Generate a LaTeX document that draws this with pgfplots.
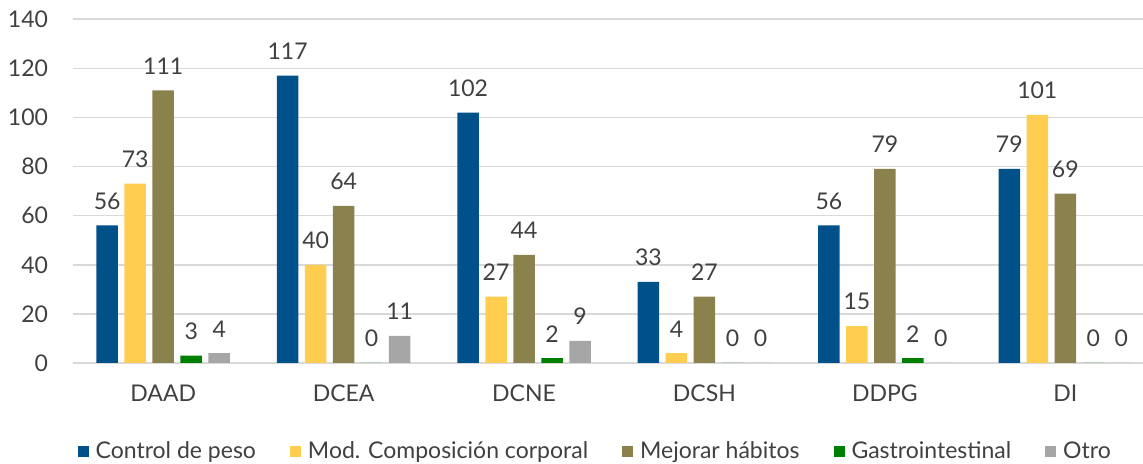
\documentclass[border=0pt]{standalone}
\usepackage{pgfplots}
\pgfplotsset{compat=1.18}
\usepackage{fontspec}
\setmainfont{Lato}
\definecolor{cblue}{HTML}{00508A}
\definecolor{cyellow}{HTML}{FFCD4F}
\definecolor{colive}{HTML}{8A814C}
\definecolor{cgreen}{HTML}{008000}
\definecolor{cgray}{HTML}{A6A6A6}
\definecolor{ctext}{HTML}{404040}
\definecolor{cgrid}{HTML}{D9D9D9}
\begin{document}
\begin{tikzpicture}
\useasboundingbox (-36.5pt,-50.25pt) rectangle (535pt,181.5pt);
\begin{axis}[
  at={(0,0)}, anchor=south west,
  scale only axis, width=535pt, height=171.9pt,
  ybar=3.25pt, bar width=10.75pt,
  xmin=-0.5, xmax=5.431, ymin=0, ymax=140,
  ytick={0,20,...,140},
  xtick={0,...,5},
  xticklabels={DAAD,DCEA,DCNE,DCSH,DDPG,DI},
  axis line style={draw=none},
  major tick length=0pt,
  ymajorgrids, grid style={cgrid, line width=0.8pt},
  tick label style={font=\fontsize{11.5}{13}\selectfont, text=ctext},
  /pgf/number format/assume math mode=true,
  yticklabel style={xshift=-9pt},
  xticklabel style={yshift=-7.5pt},
  nodes near coords,
  every node near coord/.append style={font=\fontsize{11.5}{13}\selectfont, text=ctext, yshift=4.5pt},
  legend style={at={(0.489,-0.257)}, anchor=center, draw=none, fill=none,
    legend columns=-1, font=\fontsize{11.5}{13}\selectfont, text=ctext,
    /tikz/every odd column/.append style={column sep=1.5pt},
    /tikz/every even column/.append style={column sep=15pt}},
  legend image code/.code={\fill[#1] (0pt,-2.75pt) rectangle (5.5pt,2.75pt);},
]
\addplot[fill=cblue, draw=none] coordinates {(0,56) (1,117) (2,102) (3,33) (4,56) (5,79)};
\addplot[fill=cyellow, draw=none] coordinates {(0,73) (1,40) (2,27) (3,4) (4,15) (5,101)};
\addplot[fill=colive, draw=none] coordinates {(0,111) (1,64) (2,44) (3,27) (4,79) (5,69)};
\addplot[fill=cgreen, draw=none] coordinates {(0,3) (1,0) (2,2) (3,0) (4,2) (5,0)};
\addplot[fill=cgray, draw=none] coordinates {(0,4) (1,11) (2,9) (3,0) (4,0) (5,0)};
\legend{Control de peso, Mod. Composición corporal, Mejorar hábitos, Gastrointestinal, Otro}
\end{axis}
\end{tikzpicture}
\end{document}
